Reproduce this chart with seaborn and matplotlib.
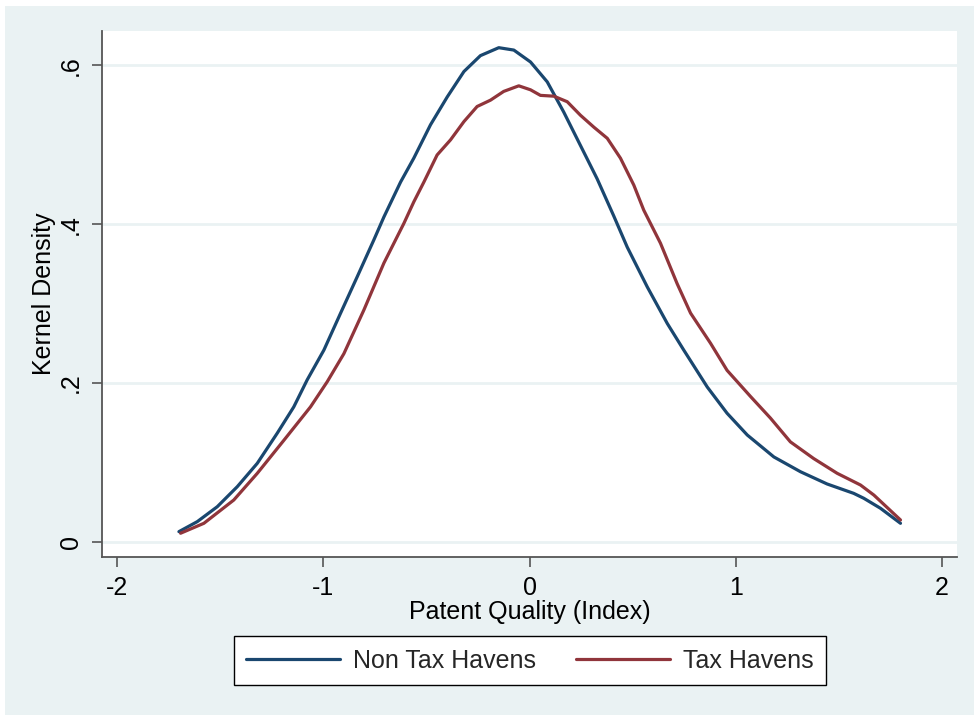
import numpy as np
import pandas as pd
import matplotlib
matplotlib.use("Agg")
import matplotlib.pyplot as plt
import seaborn as sns
from matplotlib.patches import Rectangle
from matplotlib.lines import Line2D

# ---- data ----
non_x = [-1.700, -1.611, -1.514, -1.417, -1.320, -1.223, -1.143, -1.078, -0.997, -0.916,
         -0.835, -0.755, -0.706, -0.625, -0.561, -0.480, -0.399, -0.318, -0.238, -0.149,
         -0.076, 0.005, 0.086, 0.166, 0.247, 0.328, 0.409, 0.474, 0.571, 0.668,
         0.748, 0.862, 0.958, 1.056, 1.185, 1.314, 1.443, 1.572, 1.621, 1.702, 1.799]
non_y = [0.013, 0.0256, 0.0444, 0.0696, 0.099, 0.137, 0.170, 0.204, 0.2415, 0.288,
         0.334, 0.380, 0.409, 0.453, 0.483, 0.525, 0.560, 0.592, 0.612, 0.622,
         0.619, 0.604, 0.579, 0.541, 0.499, 0.457, 0.410, 0.371, 0.321, 0.275,
         0.2415, 0.195, 0.162, 0.1346, 0.107, 0.0884, 0.073, 0.0612, 0.055, 0.0424, 0.0235]

tax_x = [-1.692, -1.579, -1.434, -1.320, -1.191, -1.062, -0.981, -0.900, -0.803, -0.706,
         -0.609, -0.561, -0.512, -0.448, -0.383, -0.318, -0.254, -0.189, -0.125, -0.052,
         0.005, 0.053, 0.118, 0.183, 0.247, 0.312, 0.377, 0.441, 0.506, 0.554,
         0.635, 0.716, 0.781, 0.878, 0.958, 1.072, 1.168, 1.265, 1.378, 1.492,
         1.605, 1.670, 1.799]
tax_y = [0.011, 0.0235, 0.0528, 0.0864, 0.128, 0.170, 0.2016, 0.237, 0.292, 0.351,
         0.401, 0.428, 0.453, 0.487, 0.506, 0.529, 0.548, 0.556, 0.567, 0.574,
         0.569, 0.562, 0.561, 0.554, 0.537, 0.522, 0.508, 0.483, 0.449, 0.4176,
         0.376, 0.325, 0.288, 0.250, 0.216, 0.183, 0.156, 0.126, 0.105, 0.0864,
         0.0717, 0.059, 0.0277]

series_names = ["Non Tax Havens", "Tax Havens"]
x_ticks = [-2, -1, 0, 1, 2]
x_tick_labels = ["-2", "-1", "0", "1", "2"]
y_ticks = [0, 0.2, 0.4, 0.6]
y_tick_labels = ["0", ".2", ".4", ".6"]

df = pd.concat([
    pd.DataFrame({"x": non_x, "y": non_y, "group": series_names[0]}),
    pd.DataFrame({"x": tax_x, "y": tax_y, "group": series_names[1]}),
], ignore_index=True)

BG = "#EAF2F3"
BLUE = "#1A476F"
RED = "#90353B"
FONT = ["Liberation Sans", "DejaVu Sans"]

sns.set_theme(style="white")
plt.rcParams["font.family"] = FONT
plt.rcParams["axes.unicode_minus"] = False

fig = plt.figure(figsize=(9.74, 7.15), dpi=100)
fig.patch.set_facecolor("white")
fig.patches.append(Rectangle((5 / 974, 0), 1 - 5 / 974, 1 - 6 / 715,
                             transform=fig.transFigure, facecolor=BG,
                             edgecolor="none", zorder=-10))

ax = fig.add_axes([102 / 974, 1 - 557 / 715, (957 - 102) / 974, (557 - 31) / 715])
ax.set_facecolor("white")

sns.lineplot(data=df, x="x", y="y", hue="group", palette=[BLUE, RED],
             sort=False, estimator=None, linewidth=2.3, ax=ax, legend=False)
for ln in ax.get_lines():
    ln.set_solid_joinstyle("round")
    ln.set_solid_capstyle("round")

ax.set_xlim(-2.073, 2.073)
ax.set_ylim(-0.0189, 0.643)
ax.set_xticks(x_ticks)
ax.set_xticklabels(x_tick_labels)
ax.set_yticks(y_ticks)
ax.set_yticklabels(y_tick_labels, rotation=90, va="center")

for y in y_ticks:
    ax.axhline(y, color=BG, linewidth=2.0, zorder=0)

for s in ["top", "right"]:
    ax.spines[s].set_visible(False)
for s in ["left", "bottom"]:
    ax.spines[s].set_color("#555555")
    ax.spines[s].set_linewidth(1.3)

ax.tick_params(axis="both", which="major", direction="out", length=7.2, width=1.2,
               color="#555555", labelsize=18, labelcolor="black", pad=6.5,
               left=True, bottom=True)

ax.set_xlabel("Patent Quality (Index)", fontsize=18, labelpad=0, color="black")
ax.set_ylabel("Kernel Density", fontsize=18, labelpad=2, color="black")

handles = [Line2D([0], [0], color=BLUE, linewidth=2.3),
           Line2D([0], [0], color=RED, linewidth=2.3)]
leg = fig.legend(handles, series_names, loc="center",
                 bbox_to_anchor=(530 / 974, 1 - 660.5 / 715), ncol=2,
                 fontsize=18, frameon=True, fancybox=False, framealpha=1,
                 edgecolor="black", facecolor="white", handlelength=3.76,
                 handletextpad=0.52, columnspacing=1.6, borderpad=0.5)
leg.get_frame().set_linewidth(1.0)

fig.savefig("out.png", dpi=100, facecolor=fig.get_facecolor())
